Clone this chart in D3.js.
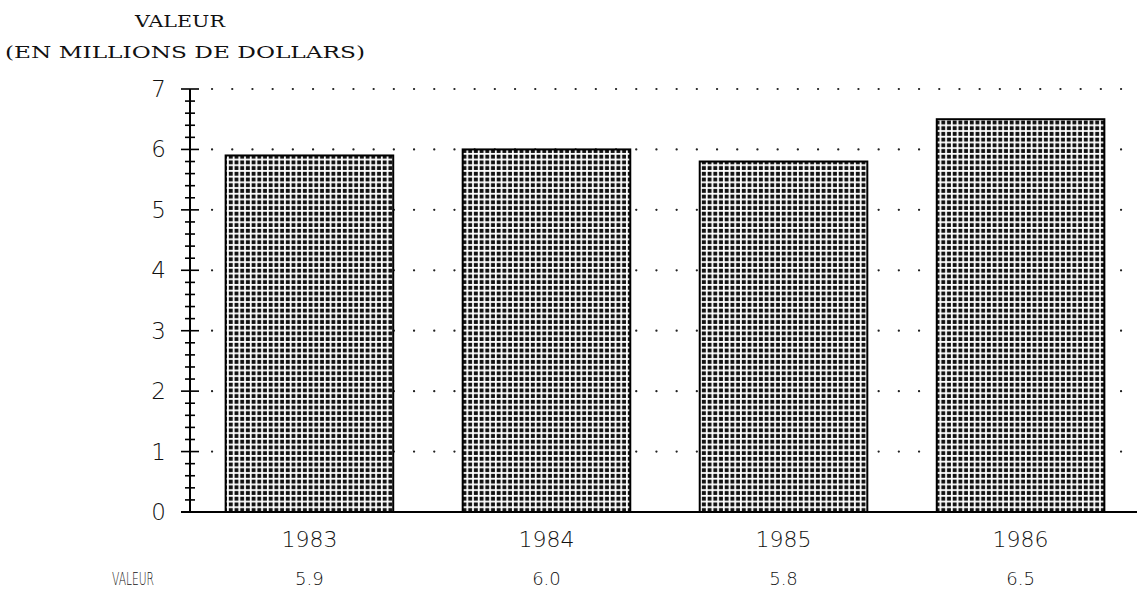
<!DOCTYPE html>
<html>
<head>
<meta charset="utf-8">
<script src="https://cdn.jsdelivr.net/npm/d3@7"></script>
<style>
  body { margin: 0; background: #fff; }
  .typ { font-family: "DejaVu Serif", serif; }
  .lcd { font-family: "DejaVu Sans", sans-serif; font-weight: 300; }
</style>
</head>
<body>
<div id="chart"></div>
<script>
var width = 1137,
    height = 609;

// data
var years = ["1983", "1984", "1985", "1986"];
var values = [5.9, 6.0, 5.8, 6.5];
var valueLabels = ["5.9", "6.0", "5.8", "6.5"];
var yTicks = [0, 1, 2, 3, 4, 5, 6, 7];

var svg = d3.select("#chart").append("svg")
    .attr("width", width)
    .attr("height", height);

// dotted screen fill for the bars
var defs = svg.append("defs");
var pat = defs.append("pattern")
    .attr("id", "dots")
    .attr("patternUnits", "userSpaceOnUse")
    .attr("width", 5.7)
    .attr("height", 5.7);
pat.append("rect").attr("width", 5.7).attr("height", 5.7).attr("fill", "#fff");
pat.append("rect").attr("x", 0.8).attr("y", 0.8).attr("width", 3.9).attr("height", 3.9).attr("fill", "#111");

var x0 = 190, x1 = 1137;
var y = d3.scaleLinear()
    .domain([0, 7])
    .range([512, 89]);

var x = d3.scaleBand()
    .domain(years)
    .range([187, 1143])
    .paddingInner(0.293)
    .paddingOuter(0.163);

// dotted grid lines
svg.append("g").selectAll("line")
    .data(yTicks.slice(1))
    .enter().append("line")
    .attr("x1", x0 + 22)
    .attr("x2", x1 - 10)
    .attr("y1", function(d) { return y(d); })
    .attr("y2", function(d) { return y(d); })
    .attr("stroke", "#222")
    .attr("stroke-width", 2.2)
    .attr("stroke-linecap", "round")
    .attr("stroke-dasharray", "0.1 20.1");

// bars
svg.append("g").selectAll("rect")
    .data(values)
    .enter().append("rect")
    .attr("x", function(d, i) { return x(years[i]); })
    .attr("y", function(d) { return y(d); })
    .attr("width", x.bandwidth())
    .attr("height", function(d) { return y(0) - y(d); })
    .attr("fill", "url(#dots)")
    .attr("stroke", "#000")
    .attr("stroke-width", 2);

// y axis with minor ticks
var yAxis = svg.append("g");
yAxis.append("line")
    .attr("x1", x0).attr("x2", x0)
    .attr("y1", y(7)).attr("y2", y(0))
    .attr("stroke", "#000").attr("stroke-width", 2);

var minor = d3.range(0, 7.001, 0.2);
yAxis.selectAll("line.minor")
    .data(minor)
    .enter().append("line")
    .attr("class", "minor")
    .attr("x1", function(d) { return Math.abs(d - Math.round(d)) < 0.01 ? x0 - 9 : x0 - 5; })
    .attr("x2", function(d) { return Math.abs(d - Math.round(d)) < 0.01 ? x0 + 9 : x0 + 5; })
    .attr("y1", function(d) { return y(d); })
    .attr("y2", function(d) { return y(d); })
    .attr("stroke", "#000").attr("stroke-width", 1.6);

yAxis.selectAll("text")
    .data(yTicks)
    .enter().append("text")
    .attr("class", "lcd")
    .attr("x", 166)
    .attr("y", function(d) { return y(d) + 8; })
    .attr("text-anchor", "end")
    .style("font-size", "23px")
    .style("fill", "#111")
    .text(function(d) { return d; });

// x axis
svg.append("line")
    .attr("x1", x0 - 9).attr("x2", x1)
    .attr("y1", y(0)).attr("y2", y(0))
    .attr("stroke", "#000").attr("stroke-width", 2);

svg.append("g").selectAll("text")
    .data(years)
    .enter().append("text")
    .attr("class", "lcd")
    .attr("x", function(d) { return x(d) + x.bandwidth() / 2; })
    .attr("y", 547)
    .attr("text-anchor", "middle")
    .style("font-size", "22px")
    .style("fill", "#111")
    .text(function(d) { return d; });

// value row under the chart
svg.append("text")
    .attr("class", "lcd")
    .attr("x", 112)
    .attr("y", 585)
    .attr("textLength", 42)
    .attr("lengthAdjust", "spacingAndGlyphs")
    .style("font-size", "18px")
    .style("fill", "#111")
    .text("VALEUR");

svg.append("g").selectAll("text")
    .data(valueLabels)
    .enter().append("text")
    .attr("class", "lcd")
    .attr("x", function(d, i) { return x(years[i]) + x.bandwidth() / 2; })
    .attr("y", 585)
    .attr("text-anchor", "middle")
    .style("font-size", "18px")
    .style("fill", "#111")
    .text(function(d) { return d; });

// title
svg.append("text")
    .attr("class", "typ")
    .attr("x", 135)
    .attr("y", 27)
    .attr("textLength", 90)
    .attr("lengthAdjust", "spacingAndGlyphs")
    .style("font-size", "17px")
    .style("fill", "#111")
    .text("VALEUR");

svg.append("text")
    .attr("class", "typ")
    .attr("x", 5)
    .attr("y", 58)
    .attr("textLength", 360)
    .attr("lengthAdjust", "spacingAndGlyphs")
    .style("font-size", "17px")
    .style("fill", "#111")
    .text("(EN MILLIONS DE DOLLARS)");
</script>
</body>
</html>
